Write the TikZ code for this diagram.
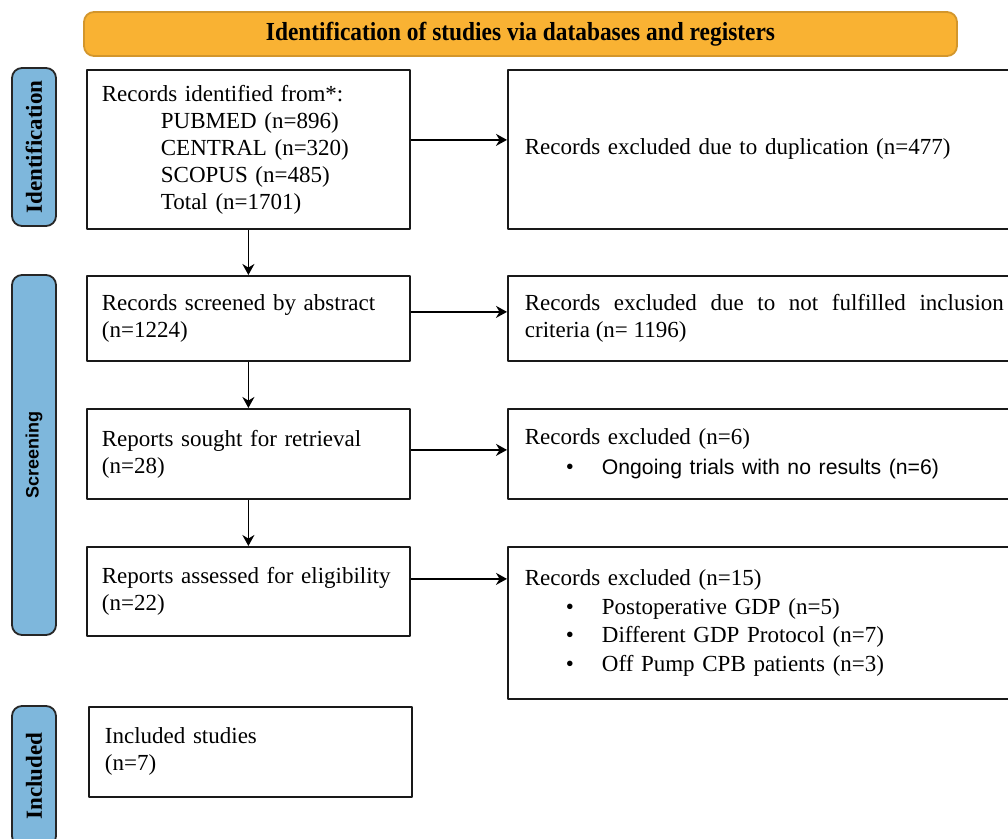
\documentclass[tikz,border=0pt]{standalone}
\usepackage{fontspec}
\setmainfont{Liberation Serif}
\setsansfont{Liberation Sans}
\usetikzlibrary{arrows.meta}
\definecolor{bannerfill}{HTML}{F9B233}
\definecolor{bannerdraw}{HTML}{D3962C}
\definecolor{phasefill}{HTML}{7EB7DC}
\tikzset{
  every picture/.style={
    line join=round,
    >=Stealth,
  },
}

\begin{document}
\begin{tikzpicture}[x=0.5pt,y=-0.5pt,
    box/.style={draw=black!90, line width=0.9pt, anchor=north west, align=left,
      inner xsep=7.5pt, inner ysep=0pt, font=\fontsize{11.5}{13.5}\selectfont,
      execute at begin node={\hyphenpenalty=10000}},
    side/.style={box, minimum width=256.5pt, text width=239.5pt, inner xsep=8.5pt},
    phase/.style={draw=black!85, line width=0.9pt, fill=phasefill, rounded corners=5pt,
      rotate=90, minimum height=22pt, inner sep=0pt},
    arr/.style={->, line width=0.9pt, >={Stealth[length=5.5pt,width=6pt]}}]
    \clip (0,0) rectangle (1008,839);
    % Banner
    \node[draw=bannerdraw, line width=0.9pt, fill=bannerfill, rounded corners=5pt,
      minimum width=436.5pt, minimum height=22pt] (banner) at (520.5,34)
      {\scalebox{0.9}[1]{\fontsize{13}{15}\selectfont\bfseries Identification of studies via databases and registers}};
    % Phase labels
    \node[phase, minimum width=79pt] (ident) at (34,147) {\fontsize{11.5}{12}\selectfont\bfseries Identification};
    \node[phase, minimum width=180pt] (screen) at (34,455) {\fontsize{9}{10}\selectfont\sffamily\bfseries Screening};
    \node[phase, minimum width=70pt] (incl) at (34,776) {\fontsize{11.5}{12}\selectfont\bfseries Included};
    % Main column
    \node[box, minimum width=161.5pt, minimum height=79.5pt, text width=146.5pt] (found) at (86,69)
      {Records identified from*:\\
       \hspace*{29.5pt}PUBMED (n=896)\\
       \hspace*{29.5pt}CENTRAL (n=320)\\
       \hspace*{29.5pt}SCOPUS (n=485)\\
       \hspace*{29.5pt}Total (n=1701)};
    \node[box, minimum width=161.5pt, minimum height=42.5pt, text width=146.5pt] (screened) at (86,275)
      {Records screened by abstract\\(n=1224)};
    \node[box, minimum width=161.5pt, minimum height=45pt, text width=146.5pt] (sought) at (86,408)
      {Reports sought for retrieval\\(n=28)};
    \node[box, minimum width=161.5pt, minimum height=44.5pt, text width=146.5pt] (assessed) at (86,546)
      {Reports assessed for eligibility\\(n=22)};
    \node[box, minimum width=161.5pt, minimum height=45pt, text width=145.5pt, inner xsep=8pt] (included) at (88,706)
      {Included studies\\(n=7)};
    % Exclusion column
    \node[side, minimum height=79.5pt] (dup) at (507,69)
      {Records excluded due to duplication (n=477)};
    \node[side, minimum height=42.5pt, align=justify] (crit) at (507,275)
      {Records excluded due to not fulfilled inclusion criteria (n= 1196)};
    \node[side, minimum height=45pt, font=\fontsize{11.5}{15}\selectfont] (excl3) at (507,408)
      {Records excluded (n=6)\\
       \hspace*{20.5pt}\makebox[18pt][l]{\textbullet}{\sffamily\fontsize{10.6}{15}\selectfont Ongoing trials with no results (n=6)}};
    \node[side, minimum height=76pt, font=\fontsize{11.5}{14.25}\selectfont] (excl4) at (507,546)
      {Records excluded (n=15)\\
       \hspace*{20.5pt}\makebox[18pt][l]{\textbullet}Postoperative GDP (n=5)\\
       \hspace*{20.5pt}\makebox[18pt][l]{\textbullet}Different GDP Protocol (n=7)\\
       \hspace*{20.5pt}\makebox[18pt][l]{\textbullet}Off Pump CPB patients (n=3)};
    % Arrows down
    \draw[arr] (found.south) -- (screened.north);
    \draw[arr] (screened.south) -- (sought.north);
    \draw[arr] (sought.south) -- (assessed.north);
    % Arrows across
    \draw[arr] ([yshift=4.75pt]found.east) -- ([yshift=4.75pt]dup.west);
    \draw[arr] ([yshift=3.25pt]screened.east) -- ([yshift=3.25pt]crit.west);
    \draw[arr] ([yshift=2pt]sought.east) -- ([yshift=2pt]excl3.west);
    \draw[arr] ([yshift=6.25pt]assessed.east) -- ([yshift=6.25pt]assessed.east -| excl4.west);
\end{tikzpicture}
\end{document}
